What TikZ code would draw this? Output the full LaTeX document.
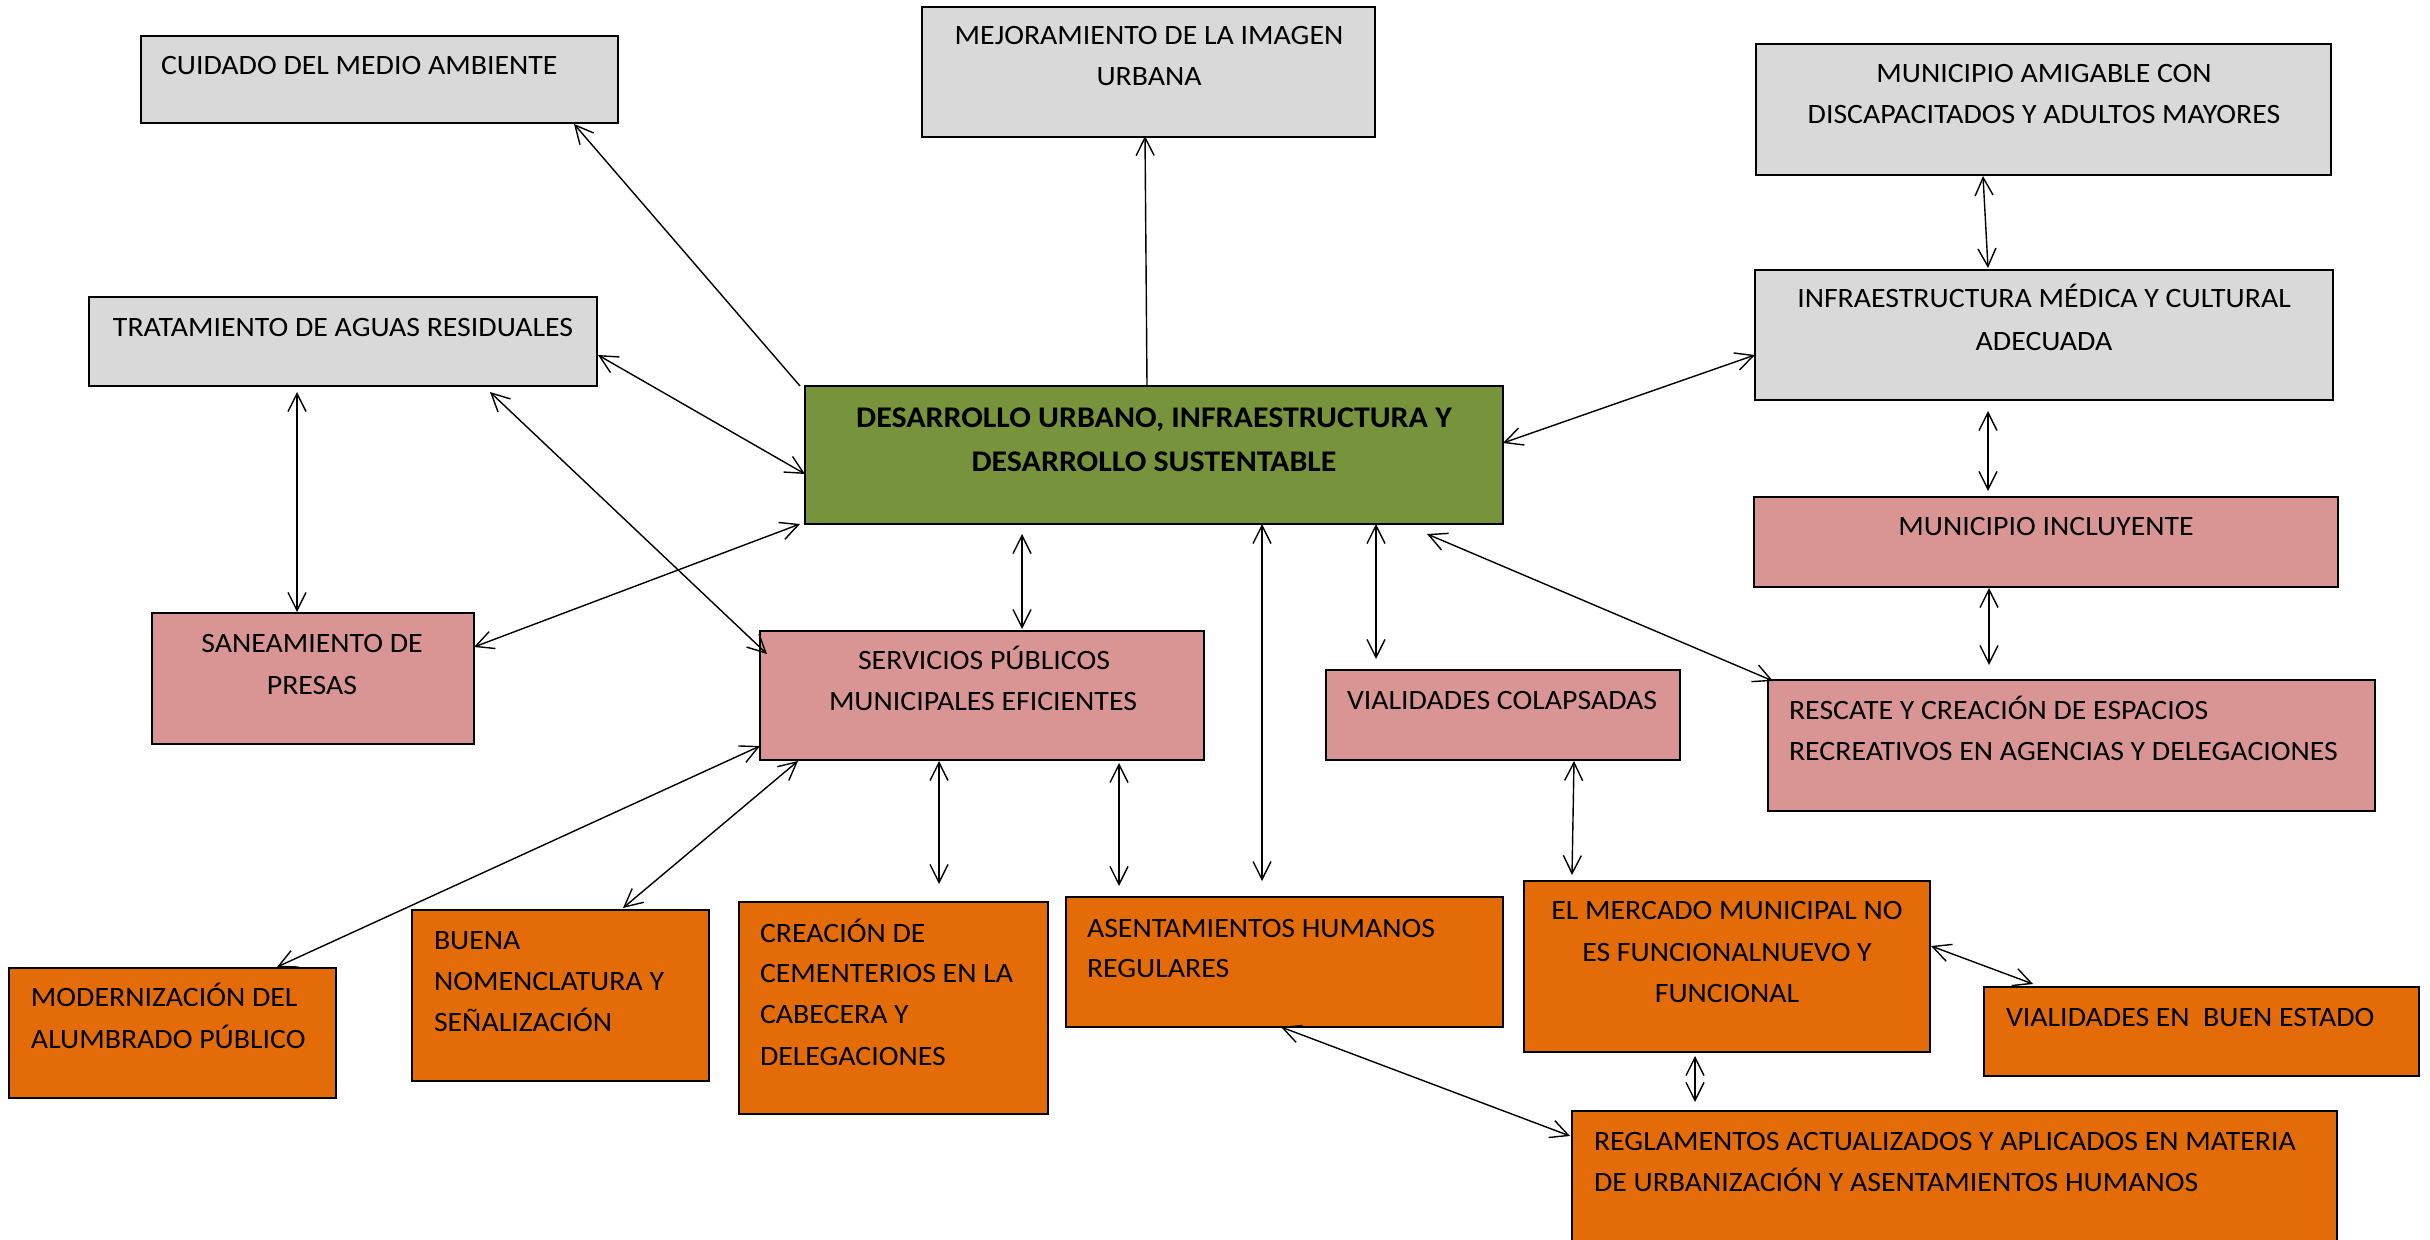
\documentclass[tikz,border=0pt]{standalone}
\usepackage{fontspec}
\setmainfont{Carlito}[FakeStretch=1.065]
\usetikzlibrary{arrows.meta,calc}
\definecolor{cgray}{HTML}{D9D9D9}
\definecolor{cgreen}{HTML}{77933C}
\definecolor{cpink}{HTML}{D99594}
\definecolor{corange}{HTML}{E36C09}
\begin{document}
\begin{tikzpicture}[x=0.5pt,y=-0.5pt,
  box/.style={draw=black,line width=1pt,inner sep=0pt,outer sep=0pt},
  gbox/.style={box,fill=cgray},
  pbox/.style={box,fill=cpink},
  obox/.style={box,fill=corange},
  vbox/.style={box,fill=cgreen},
  lab/.style={inner sep=0pt,outer sep=0pt,font=\fontsize{14}{17}\selectfont},
  labL/.style={lab,anchor=base west},
  labC/.style={lab,anchor=base},
  bi/.style={line width=0.7pt,{Straight Barb[length=9pt,width=9pt]}-{Straight Barb[length=9pt,width=9pt]}},
  uni/.style={line width=0.7pt,-{Straight Barb[length=9pt,width=9pt]}}]
\useasboundingbox (0,0) rectangle (2430,1240);
% boxes
\node[gbox,minimum width=238.5pt,minimum height=43.5pt] (cui) at (379.5,79.5) {};
\node[gbox,minimum width=226.5pt,minimum height=65pt] (mej) at (1148.5,72) {};
\node[gbox,minimum width=287.5pt,minimum height=65.5pt] (ami) at (2043.5,109.5) {};
\node[gbox,minimum width=289pt,minimum height=65pt] (inf) at (2044,335) {};
\node[pbox,minimum width=292pt,minimum height=45pt] (inc) at (2046,542) {};
\node[gbox,minimum width=254pt,minimum height=44.5pt] (tra) at (343,341.5) {};
\node[vbox,minimum width=349pt,minimum height=69pt] (cen) at (1154,455) {};
\node[pbox,minimum width=161pt,minimum height=65.5pt] (san) at (313,678.5) {};
\node[pbox,minimum width=222pt,minimum height=64.5pt] (ser) at (982,695.5) {};
\node[pbox,minimum width=177pt,minimum height=45pt] (vco) at (1503,715) {};
\node[pbox,minimum width=303.5pt,minimum height=65.5pt] (res) at (2071.5,745.5) {};
\node[obox,minimum width=163.5pt,minimum height=65pt] (mod) at (172.5,1033) {};
\node[obox,minimum width=148.5pt,minimum height=85.5pt] (bue) at (560.5,995.5) {};
\node[obox,minimum width=154.5pt,minimum height=106pt] (cre) at (893.5,1008) {};
\node[obox,minimum width=218.5pt,minimum height=65pt] (ase) at (1284.5,962) {};
\node[obox,minimum width=203pt,minimum height=85.5pt] (mer) at (1727,966.5) {};
\node[obox,minimum width=217.5pt,minimum height=44.5pt] (vbe) at (2201.5,1031.5) {};
\node[obox,minimum width=382.5pt,minimum height=67pt] (reg) at (1954.5,1178) {};
% texts
\node[labL] (t1) at (161,75) {CUIDADO DEL MEDIO AMBIENTE};
\node[labC] (t2a) at (1149,45) {MEJORAMIENTO DE LA IMAGEN};
\node[labC] (t2b) at (1149,86) {URBANA};
\node[labC] (t3a) at (2044,83) {MUNICIPIO AMIGABLE CON};
\node[labC] (t3b) at (2044,124) {DISCAPACITADOS Y ADULTOS MAYORES};
\node[labC] (t4a) at (2044,308) {INFRAESTRUCTURA MÉDICA Y CULTURAL};
\node[labC] (t4b) at (2044,351) {ADECUADA};
\node[labC] (t5) at (2046,536) {MUNICIPIO INCLUYENTE};
\node[labC] (t6) at (343,337) {TRATAMIENTO DE AGUAS RESIDUALES};
\node[labC,font=\fontsize{15}{18}\selectfont\bfseries] (t7a) at (1154,428) {DESARROLLO URBANO, INFRAESTRUCTURA Y};
\node[labC,font=\fontsize{15}{18}\selectfont\bfseries] (t7b) at (1154,472) {DESARROLLO SUSTENTABLE};
\node[labC] (t8a) at (312,652) {SANEAMIENTO DE};
\node[labC] (t8b) at (312,694) {PRESAS};
\node[labC] (t9a) at (984,669) {SERVICIOS PÚBLICOS};
\node[labC] (t9b) at (983,710) {MUNICIPALES EFICIENTES};
\node[labL] (t10) at (1347,709) {VIALIDADES COLAPSADAS};
\node[labL] (t11a) at (1789,719) {RESCATE Y CREACIÓN DE ESPACIOS};
\node[labL] (t11b) at (1789,760) {RECREATIVOS EN AGENCIAS Y DELEGACIONES};
\node[labL] (t12a) at (31,1006) {MODERNIZACIÓN DEL};
\node[labL] (t12b) at (31,1048) {ALUMBRADO PÚBLICO};
\node[labL] (t13a) at (434,949) {BUENA};
\node[labL] (t13b) at (434,990) {NOMENCLATURA Y};
\node[labL] (t13c) at (434,1031) {SEÑALIZACIÓN};
\node[labL] (t14a) at (760,942) {CREACIÓN DE};
\node[labL] (t14b) at (760,982) {CEMENTERIOS EN LA};
\node[labL] (t14c) at (760,1023) {CABECERA Y};
\node[labL] (t14d) at (760,1065) {DELEGACIONES};
\node[labL] (t15a) at (1087,937) {ASENTAMIENTOS HUMANOS};
\node[labL] (t15b) at (1087,977) {REGULARES};
\node[labC] (t16a) at (1727,919) {EL MERCADO MUNICIPAL NO};
\node[labC] (t16b) at (1727,961) {ES FUNCIONALNUEVO Y};
\node[labC] (t16c) at (1727,1002) {FUNCIONAL};
\node[labL] (t17) at (2006,1026) {VIALIDADES EN\ \ BUEN ESTADO};
\node[labL] (t18a) at (1594,1150) {REGLAMENTOS ACTUALIZADOS Y APLICADOS EN MATERIA};
\node[labL] (t18b) at (1594,1191) {DE URBANIZACIÓN Y ASENTAMIENTOS HUMANOS};
% connectors
\draw[uni] ($(cen.north west)+(-5,0)$) -- ($(cui.south west)+(433,1)$);
\draw[uni] ($(cen.north west)+(342,0)$) -- ($(mej.south west)+(223,-1)$);
\draw[bi] ($(tra.north east)+(1,58)$) -- ($(cen.north west)+(0,88)$);
\draw[bi] ($(tra.south west)+(208,6)$) -- ($(san.north west)+(145,-1)$);
\draw[bi] ($(tra.south west)+(401,6)$) -- ($(ser.north west)+(7,23)$);
\draw[bi] ($(san.north east)+(0,34)$) -- ($(cen.south west)+(-5,0)$);
\draw[bi] ($(cen.south west)+(217,10)$) -- ($(ser.north west)+(262,-2)$);
\draw[bi] ($(cen.north east)+(0,57)$) -- ($(inf.north west)+(0,85)$);
\draw[bi] ($(ami.south west)+(227,1)$) -- ($(inf.north west)+(233,-2)$);
\draw[bi] ($(inf.south west)+(233,11)$) -- ($(inc.north west)+(234,-6)$);
\draw[bi] ($(inc.south west)+(235,1)$) -- ($(res.north west)+(221,-15)$);
\draw[bi] ($(cen.south west)+(622,10)$) -- ($(res.north west)+(5,1)$);
\draw[bi] ($(cen.south west)+(571,0)$) -- ($(vco.north west)+(50,-11)$);
\draw[bi] ($(cen.south west)+(457,0)$) -- ($(ase.north west)+(196,-16)$);
\draw[bi] ($(vco.south west)+(248,1)$) -- ($(mer.north west)+(48,-6)$);
\draw[bi] ($(mer.north east)+(1,65)$) -- ($(vbe.north west)+(49,-3)$);
\draw[bi] ($(mer.south west)+(171,4)$) -- ($(reg.north west)+(123,-9)$);
\draw[bi] ($(ase.south west)+(215,0)$) -- ($(reg.north west)+(-2,25)$);
\draw[bi] ($(ser.south west)+(0,-14)$) -- ($(mod.north west)+(268,-1)$);
\draw[bi] ($(ser.south west)+(38,1)$) -- ($(bue.north west)+(211,-2)$);
\draw[bi] ($(ser.south west)+(179,1)$) -- ($(cre.north west)+(200,-18)$);
\draw[bi] ($(ser.south west)+(359,3)$) -- ($(ase.north west)+(53,-11)$);
\end{tikzpicture}
\end{document}
